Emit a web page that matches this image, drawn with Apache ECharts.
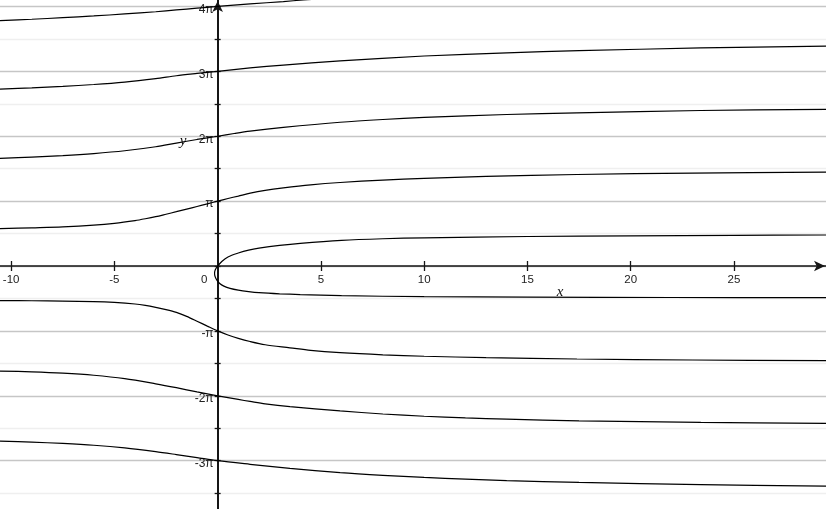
<!DOCTYPE html>
<html>
<head>
<meta charset="UTF-8">
<title>curves</title>
<script type="text/javascript" src="https://cdn.jsdelivr.net/npm/echarts@6/dist/echarts.min.js"></script>
<style>html,body{margin:0;padding:0;background:#fff;}</style>
</head>
<body>
	<div id="div" style="width:826px;height:509px"></div>

	<script type="text/javascript">
		// y values are in units of pi
		var xTicks = [ -10, -5, 0, 5, 10, 15, 20, 25 ];
		var yTicks = [ -3.5, -3, -2.5, -2, -1.5, -1, -0.5, 0, 0.5, 1, 1.5, 2, 2.5, 3, 3.5, 4 ];
		var yLabels = [ -3, -2, -1, 1, 2, 3, 4 ];

		var curve4 = [ [-10.54, 3.782], [-9, 3.802], [-7.5, 3.826], [-6, 3.853], [-4.5, 3.884],
			[-3, 3.918], [-2, 3.946], [-1, 3.973], [0, 4.0], [1.57, 4.038], [3.18, 4.075],
			[4.15, 4.099], [6, 4.14] ];
		var curve3 = [ [-10.54, 2.727], [-9, 2.745], [-7.5, 2.768], [-6, 2.797], [-4.5, 2.835],
			[-3, 2.888], [-2, 2.932], [-1, 2.967], [0, 3.0], [1.57, 3.052], [3.18, 3.097],
			[5.93, 3.16], [10, 3.236], [14, 3.285], [17.5, 3.318], [23.4, 3.36], [29.46, 3.387] ];
		var curve2 = [ [-10.54, 1.659], [-9, 1.679], [-7.5, 1.702], [-6, 1.733], [-4.5, 1.776],
			[-3, 1.838], [-2, 1.895], [-1, 1.95], [0, 2.0], [0.8, 2.042], [1.57, 2.078],
			[3.18, 2.135], [5.93, 2.215], [8, 2.258], [10, 2.29], [14, 2.335], [17.4, 2.36],
			[23.4, 2.396], [29.46, 2.414] ];
		var curve1 = [ [-10.54, 0.575], [-9, 0.589], [-7.5, 0.604], [-6, 0.63], [-5, 0.658],
			[-4, 0.7], [-3.5, 0.728], [-3, 0.76], [-2.5, 0.798], [-2, 0.837], [-1.5, 0.877],
			[-1, 0.917], [-0.5, 0.958], [0, 1.0], [0.5, 1.04], [1, 1.078], [1.58, 1.123],
			[2.3, 1.165], [3.18, 1.203], [4.5, 1.25], [5.93, 1.287], [8, 1.325], [10, 1.35],
			[13, 1.38], [17.4, 1.41], [23, 1.432], [29.46, 1.446] ];
		var curve0 = [ [29.46, -0.488], [22, -0.485], [15, -0.478], [10, -0.472], [6, -0.457],
			[4, -0.44], [3, -0.428], [2, -0.41], [1.5, -0.394], [1, -0.372], [0.6, -0.345],
			[0.3, -0.31], [0.1, -0.27], [-0.03, -0.22], [-0.12, -0.165], [-0.15, -0.11],
			[-0.11, -0.055], [0, 0], [0.2, 0.07], [0.5, 0.14], [1, 0.2], [1.5, 0.245], [2, 0.275],
			[3, 0.318], [4, 0.35], [6, 0.395], [8, 0.42], [10, 0.435], [15, 0.455], [20, 0.466],
			[25, 0.473], [29.46, 0.478] ];
		var curveM1 = [ [-10.54, -0.532], [-9, -0.535], [-7.5, -0.54], [-6, -0.548], [-5, -0.561],
			[-4, -0.585], [-3.5, -0.607], [-3, -0.637], [-2.5, -0.672], [-2, -0.715], [-1.5, -0.776],
			[-1, -0.85], [-0.5, -0.926], [0, -1.0], [0.5, -1.062], [1, -1.114], [1.57, -1.163],
			[2.3, -1.213], [3.5, -1.26], [4.5, -1.3], [5.93, -1.335], [8, -1.368], [10, -1.39],
			[13, -1.412], [17.4, -1.433], [23, -1.448], [29.46, -1.458] ];
		var curveM2 = [ [-10.54, -1.618], [-9, -1.631], [-7.5, -1.651], [-6, -1.683], [-4.5, -1.735],
			[-3, -1.815], [-2, -1.875], [-1, -1.94], [0, -2.0], [1, -2.056], [1.57, -2.087],
			[2.3, -2.125], [3.5, -2.168], [5.93, -2.232], [8, -2.28], [10, -2.315], [12, -2.34],
			[14, -2.36], [17.5, -2.385], [23.4, -2.409], [29.46, -2.424] ];
		var curveM3 = [ [-10.54, -2.697], [-9, -2.713], [-7.5, -2.734], [-6, -2.762], [-4.5, -2.803],
			[-3, -2.86], [-2, -2.905], [-1, -2.952], [0, -3.0], [1.57, -3.055], [3.5, -3.118],
			[5.93, -3.183], [8, -3.225], [10, -3.258], [12, -3.285], [14, -3.307], [17.5, -3.335],
			[23.4, -3.368], [29.46, -3.393] ];

		var curves = [ curve4, curve3, curve2, curve1, curve0, curveM1, curveM2, curveM3 ];

		var font = 'Liberation Sans, Arial, Helvetica, sans-serif';
		var serif = 'Liberation Serif, DejaVu Serif, serif';
		var axisColor = '#161616';
		var xMin = -10.54, xMax = 29.46, yMin = -3.744, yMax = 4.099;
		var yNameAt = [ -1.67, 1.93 ];

		var mychart = echarts.init(document.getElementById('div'));
		var W = mychart.getWidth(), H = mychart.getHeight();
		// the axes cross at (0,0): shift them in from the grid edges
		var x0 = (0 - xMin) / (xMax - xMin) * W;
		var y0 = (yMax - 0) / (yMax - yMin) * H;

		var tickStyle = { color : axisColor, width : 1.3 };
		var xTickVals = xTicks.filter(function(v) { return v !== 0; });

		var option = {
			animation : false,
			grid : {
				left : 0,
				right : 0,
				top : 0,
				bottom : 0,
				outerBoundsMode : 'none'
			},
			xAxis : [ {
				type : 'value',
				min : xMin,
				max : xMax,
				position : 'bottom',
				offset : -(H - y0),
				axisLine : {
					onZero : false,
					symbol : [ 'none', 'arrow' ],
					symbolSize : [ 8, 11 ],
					symbolOffset : [ 0, -1 ],
					lineStyle : { color : axisColor, width : 1.6 }
				},
				axisTick : { customValues : xTickVals, length : 5, lineStyle : tickStyle },
				axisLabel : {
					customValues : xTicks,
					margin : 8,
					fontSize : 11.5,
					fontFamily : font,
					color : '#222',
					formatter : function(v) {
						return v === 0 ? '{z|0}' : String(v);
					},
					rich : {
						z : { padding : [ 0, 27, 0, 0 ], fontSize : 11.5, fontFamily : font, color : '#222' }
					}
				},
				splitLine : { show : false },
				name : 'x',
				nameLocation : 'middle',
				nameGap : 19,
				nameMoveOverlap : false,
				nameTextStyle : {
					fontFamily : serif,
					fontStyle : 'italic',
					fontSize : 15,
					color : '#111',
					padding : [ 0, 0, 0, 294 ]
				}
			}, {
				type : 'value',
				min : xMin,
				max : xMax,
				position : 'top',
				offset : -y0,
				axisLine : { show : false, onZero : false },
				axisTick : { customValues : xTickVals, length : 5, lineStyle : tickStyle },
				axisLabel : { show : false },
				splitLine : { show : false }
			} ],
			yAxis : [ {
				type : 'value',
				min : yMin,
				max : yMax,
				position : 'left',
				offset : -x0,
				axisLine : {
					onZero : false,
					symbol : [ 'none', 'arrow' ],
					symbolSize : [ 8, 11 ],
					symbolOffset : [ 0, -1 ],
					lineStyle : { color : axisColor, width : 2 }
				},
				axisTick : { customValues : yTicks, length : 3, lineStyle : tickStyle },
				axisLabel : {
					customValues : yLabels,
					margin : 4,
					formatter : function(v) {
						var t = v === 1 ? 'π' : (v === -1 ? '-π' : v + 'π');
						return '{a|' + t + '}';
					},
					rich : {
						a : { padding : [ 6, 0, 0, 0 ], fontSize : 12, fontFamily : font, color : '#222' }
					}
				},
				splitLine : {
					show : true,
					lineStyle : { color : [ '#efefef', '#c6c6c6' ], width : 1.3 }
				}
			}, {
				type : 'value',
				min : yMin,
				max : yMax,
				position : 'right',
				offset : -(W - x0),
				axisLine : { show : false, onZero : false },
				axisTick : { customValues : yTicks, length : 3, lineStyle : tickStyle },
				axisLabel : { show : false },
				splitLine : { show : false }
			} ],
			series : curves.map(function(c) {
				return {
					type : 'line',
					data : c,
					showSymbol : false,
					smooth : 0.3,
					lineStyle : { color : '#000', width : 1.2 },
					z : 3
				};
			})
		};
		mychart.setOption(option);

		// y axis name sits beside the 2π label
		var p = mychart.convertToPixel({ xAxisIndex : 0, yAxisIndex : 0 }, yNameAt);
		mychart.setOption({
			graphic : [ {
				type : 'text',
				x : p[0],
				y : p[1],
				z : 10,
				style : {
					text : 'y',
					font : 'italic 15px ' + serif,
					fill : '#111',
					align : 'center',
					verticalAlign : 'middle'
				}
			} ]
		});
	</script>
</body>
</html>
